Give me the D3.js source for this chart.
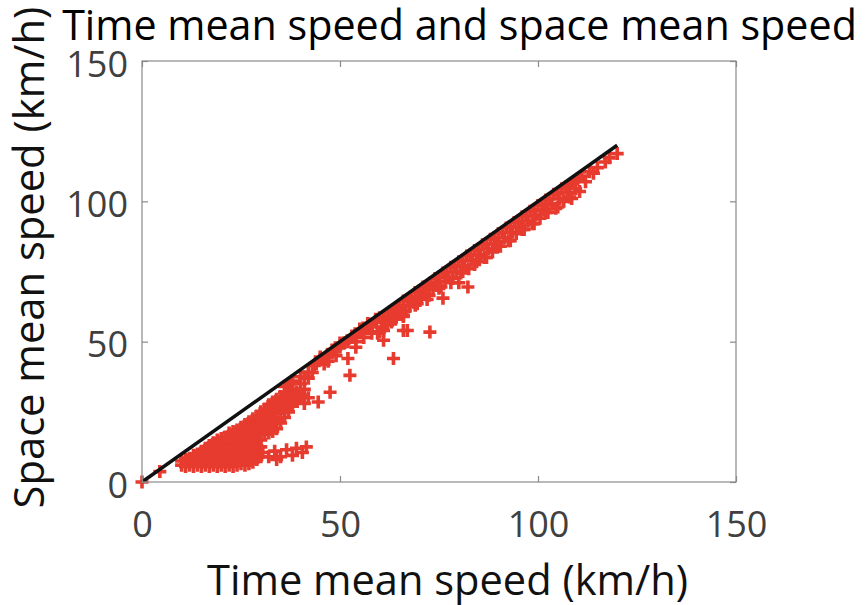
<!DOCTYPE html>
<html>
<head>
<meta charset="utf-8">
<script src="https://cdn.jsdelivr.net/npm/d3@7"></script>
<style>
  body { margin: 0; background: #fff; }
  svg { display: block; }
  text { font-family: "Open Sans", sans-serif; }
</style>
</head>
<body>
<svg width="866" height="605"></svg>
<script>
// Tick labels for both axes
var axisTicks = [0, 50, 100, 150];

// Reference line: space mean speed = time mean speed
var refTime = [0, 120];
var refSpace = [0, 120];

// Dense cluster of low speed observations (km/h)
var clusterTime = [
  10,10, 11,11, 12,12, 13,13,13, 14,14,14,
  15,15,15,15, 16,16,16,16, 17,17,17,17,17, 18,18,18,18,18,
  19,19,19,19,19,19, 20,20,20,20,20,20, 21,21,21,21,21,21, 22,22,22,22,22,22,22,
  23,23,23,23,23,23,23, 24,24,24,24,24,24,24, 25,25,25,25,25,25,25, 26,26,26,26,26,26,26,26,
  27,27,27,27,27,27,27,27, 28,28,28,28,28,28,28,28, 29,29,29,29,29,29,29,29, 30,30,30,30,30,30,30,30,
  31,31,31,31,31,31, 32,32,32,32,32,32, 33,33,33,33,33,33, 34,34,34,34,34, 35,35,35,35,
  36,36,36,36, 37,37,37, 38,38,38, 39,39, 40,40, 41,41, 42,42
];
var clusterSpace = [
  6,7.5, 5.5,8, 6,8.5, 5.5,7.5,9.5, 6,8,10,
  5.5,7.5,9.5,11, 6,8,10,12, 5.5,7.5,9.5,11.5,13, 6,8,10,12,14,
  5.5,7.5,9.5,11.5,13.5,15, 6,8,10,12,14,15.5, 5.5,7.5,9.5,11.5,13.5,16, 6,8,10,12,14,16,17.5,
  5.5,7.5,9.5,11.5,13.5,15.5,18, 6,8,10,12,14,16,18.5, 6.5,9,11,13,15,17,19.5, 6,8,10,12,14,16,18,20.5,
  6.5,9,11,13,15,17,19,21.5, 7,10,12,14,16,18,20,22.5, 8,11,13,15,17,19,21,23.5, 9,12.5,15,17,19,21,23,25,
  17,19,21,23,24.5,26, 17.5,20,22,24,26,27.5, 18,21,23,25,27,28.5, 19,22,24.5,27,29.5, 21,25,28,30.5,
  23,26,29,32, 25,28,31, 27,30,33, 29,32, 31,35, 28,33, 30,37
];

// Low branch below the cluster
var branchTime = [30.5, 32, 33.5, 35, 36.5, 38, 39, 40.5, 41.5, 34];
var branchSpace = [10.5, 9, 11, 9, 11.5, 9.5, 12, 10.5, 12.5, 8];

// Points just under the line between the cluster and the band
var nearTime = [36, 38, 40, 42, 43.5, 45, 46, 48, 49, 50, 53, 54, 55, 56, 57, 58, 59];
var nearSpace = [34, 36, 37.5, 39, 41.5, 44.5, 42, 47, 45, 49.5, 52, 50, 54.5, 51.5, 56.5, 53, 58];

// Band of higher speed observations close to the line
var bandTime = [
  44,45,46,47,48,49,50,51,52,53,
  54,55,56,57,58,59,60,60.5,61,62,
  62.5,63,63.5,64,64.5,65,65.5,66,66.5,67,
  67.5,68,68.5,69,69.5,70,70.5,71,71.5,72,
  72.5,73,73.5,74,74.5,75,75.5,76,76.5,77,
  77.5,78,78.5,79,79.5,80,80.5,81,81.5,82,
  82.5,83,83.5,84,84.5,85,85.5,86,86.5,87,
  87.5,88,88.5,89,89.5,90,90.5,91,91.5,92,
  92.5,93,93.5,94,94.5,95,95.5,96,96.5,97,
  97.5,98,98.5,99,99.5,100,100.5,101,101.5,102,
  102.5,103,103.5,104,104.5,105,105.5,106,106.5,107,
  107.5,108,108.5,109,109.5,110,110.5,111,112,113,
  114,115,117,118,120
];
var bandSpace = [
  42,43.5,44,45.5,46,47.5,48,49.5,50,51.5,
  52,53.5,54,54.5,56,57,58.5,55,59,58,
  60.5,59,61.5,58,62,63,60,64.5,61,65,
  62.5,66,64,67.5,63.5,68,65.5,69.5,67,70,
  66.5,71,68.5,72.5,70,73,69.5,74.5,71.5,75,
  73,76.5,72.5,77,75,78.5,74.5,79,77,80.5,
  76,81,79,82.5,78.5,83,81,84.5,80,85,
  83,86.5,82,87,85,88.5,84,89,87,90.5,
  86,91,89,92.5,88.5,93,91,94.5,90,95,
  93,96.5,92,97,95,98.5,94,99,97,100.5,
  96,101,99,102.5,97.5,103,101,104.5,100,105,
  103,106,101,107,104.5,108,103.5,109,107,110.5,
  110,112,114,115.5,117
];

// Lower edge of the band
var lowTime = [60, 63, 66, 69, 72, 75, 78, 81, 84, 87, 90, 93, 96, 99, 102, 105, 108];
var lowSpace = [53.5, 57, 59, 63, 65, 69, 71, 75, 77.5, 80, 84, 86, 90, 92, 96, 98, 101.5];

// Scattered points below the line
var outlierTime = [
  0, 4.5,
  37.5, 41, 43, 44.5, 47.5, 47, 52, 52.5, 51, 54,
  59.5, 62, 61, 63.5, 66, 65, 67, 72.7, 61, 66,
  76, 82.3, 80, 70
];
var outlierSpace = [
  0, 3.7,
  35, 37.5, 39, 28.5, 32, 43, 44, 38, 49.5, 48,
  53, 56, 50.5, 44, 54, 61, 54, 53.4, 54, 59.5,
  65.5, 69.5, 71, 66
];

var svg = d3.select('svg');

var box = {l: 142, r: 736, t: 61, b: 482};

var x = d3.scaleLinear().domain([0, 150]).range([box.l, box.r]);
var y = d3.scaleLinear().domain([0, 150]).range([box.b, box.t]);

var points = d3.zip(clusterTime, clusterSpace)
    .concat(d3.zip(branchTime, branchSpace))
    .concat(d3.zip(nearTime, nearSpace))
    .concat(d3.zip(bandTime, bandSpace))
    .concat(d3.zip(lowTime, lowSpace))
    .concat(d3.zip(outlierTime, outlierSpace));

// markers
svg.append('g')
    .selectAll('path')
    .data(points)
    .enter()
    .append('path')
    .attr('transform', function(d) { return 'translate(' + [x(d[0]), y(d[1])] + ')'; })
    .attr('d', 'M-6.5,0H6.5M0,-6.5V6.5')
    .attr('stroke', '#e63b2e')
    .attr('stroke-width', 3.6)
    .attr('fill', 'none');

// reference line
var line = d3.line()
    .x(function(d) { return x(d[0]); })
    .y(function(d) { return y(d[1]); });

svg.append('path')
    .datum(d3.zip(refTime, refSpace))
    .attr('d', line)
    .attr('stroke', '#111')
    .attr('stroke-width', 3.5)
    .attr('fill', 'none');

// axes box
var boxColor = '#8a8a8a';
svg.append('rect')
    .attr('x', box.l).attr('y', box.t)
    .attr('width', box.r - box.l).attr('height', box.b - box.t)
    .attr('fill', 'none')
    .attr('stroke', boxColor)
    .attr('stroke-width', 1.2);

function styleAxis(g) {
    g.select('.domain').remove();
    g.selectAll('line').attr('stroke', boxColor).attr('stroke-width', 1.2);
    g.selectAll('text')
        .attr('fill', '#404040')
        .style('font-size', '36px')
        .style('font-family', '"Open Sans", sans-serif');
}

svg.append('g')
    .attr('transform', 'translate(0,' + box.b + ')')
    .call(d3.axisBottom(x).tickValues(axisTicks).tickSize(-6).tickPadding(29))
    .call(styleAxis);

svg.append('g')
    .attr('transform', 'translate(0,' + box.t + ')')
    .call(d3.axisTop(x).tickValues(axisTicks).tickSize(-6).tickFormat(''))
    .call(styleAxis);

svg.append('g')
    .attr('transform', 'translate(' + box.l + ',0)')
    .call(d3.axisLeft(y).tickValues(axisTicks).tickSize(-6).tickPadding(14))
    .call(styleAxis)
    .selectAll('text').attr('dy', '0.42em');

svg.append('g')
    .attr('transform', 'translate(' + box.r + ',0)')
    .call(d3.axisRight(y).tickValues(axisTicks).tickSize(-6).tickFormat(''))
    .call(styleAxis);

// fit a label to the width it has in the picture
function fitText(sel, width) {
    sel.style('font-size', '40px');
    var w = sel.node().getComputedTextLength();
    sel.style('font-size', (40 * width / w) + 'px');
}

var title = svg.append('text')
    .attr('x', 459.5).attr('y', 40)
    .attr('text-anchor', 'middle')
    .attr('fill', '#000')
    .text('Time mean speed and space mean speed');
fitText(title, 795);

var xLabel = svg.append('text')
    .attr('x', 447.5).attr('y', 595)
    .attr('text-anchor', 'middle')
    .attr('fill', '#111')
    .text('Time mean speed (km/h)');
fitText(xLabel, 481);

var yLabel = svg.append('text')
    .attr('transform', 'translate(44,257.5) rotate(-90)')
    .attr('text-anchor', 'middle')
    .attr('fill', '#111')
    .text('Space mean speed (km/h)');
fitText(yLabel, 502);
</script>
</body>
</html>
